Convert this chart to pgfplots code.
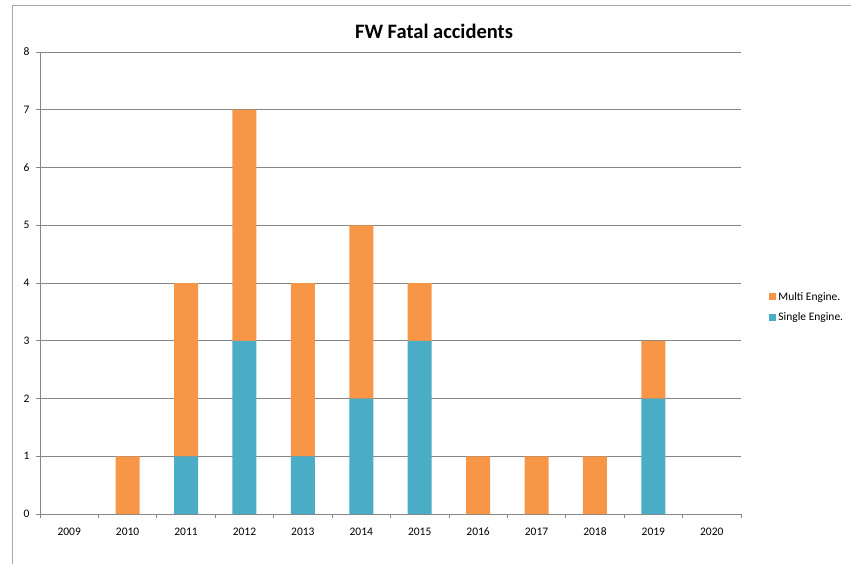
\documentclass[border=0pt]{standalone}
\usepackage{pgfplots}
\pgfplotsset{compat=1.18}
\usepackage{fontspec}
\setmainfont{Carlito}
\definecolor{multi}{HTML}{F79646}
\definecolor{single}{HTML}{4BACC6}
\definecolor{gridgray}{HTML}{868686}
\definecolor{framegray}{HTML}{A6A6A6}

% accidents per year
\pgfplotstableread{
idx single multi
0  0 0
1  0 1
2  1 3
3  3 4
4  1 3
5  2 3
6  3 1
7  0 1
8  0 1
9  0 1
10 2 1
11 0 0
}\fwdata

\begin{document}
\begin{tikzpicture}
\path[use as bounding box] (0pt,0pt) rectangle (851pt,-564pt);
\draw[framegray, line width=1pt] (12pt,-564pt) -- (12pt,-6pt) -- (851pt,-6pt);
\node[font=\fontsize{20.5}{24}\selectfont\bfseries] at (434pt,-31pt) {FW Fatal accidents};
\begin{axis}[
  at={(40pt,-514pt)}, anchor=south west,
  scale only axis, width=701pt, height=462pt,
  xmin=-0.5, xmax=11.5, ymin=0, ymax=8,
  ybar stacked, bar width=24pt,
  axis x line*=bottom, axis y line*=left,
  axis line style={gridgray, line width=0.8pt},
  ymajorgrids, grid style={gridgray, line width=0.8pt},
  ytick={0,...,8},
  xtick={0,...,11},
  xticklabels={2009,2010,2011,2012,2013,2014,2015,2016,2017,2018,2019,2020},
  minor xtick={-0.5,0.5,...,11.5},
  tick align=outside,
  major x tick style={draw=none},
  minor tick length=4pt, major tick length=4pt,
  every tick/.style={gridgray, line width=0.8pt},
  ticklabel style={font=\fontsize{11.5}{13}\selectfont, text=black},
  xticklabel style={anchor=north, yshift=-6pt, text height=8pt, text depth=0pt},
  yticklabel style={xshift=-3pt},
  /pgf/number format/assume math mode=true,
  reverse legend,
  legend style={at={(1.036,0.448)}, anchor=west, draw=none, fill=none,
    font=\fontsize{11.5}{13}\selectfont, row sep=7pt,
    /tikz/every even column/.append style={column sep=0pt}},
  legend cell align=left,
  legend image code/.code={\fill[#1] (0pt,-3.5pt) rectangle (7pt,3.5pt);},
]
\addplot[fill=single, draw=none] table[x=idx, y=single] {\fwdata};
\addplot[fill=multi, draw=none] table[x=idx, y=multi] {\fwdata};
\legend{Single Engine., Multi Engine.}
\end{axis}
\end{tikzpicture}
\end{document}
